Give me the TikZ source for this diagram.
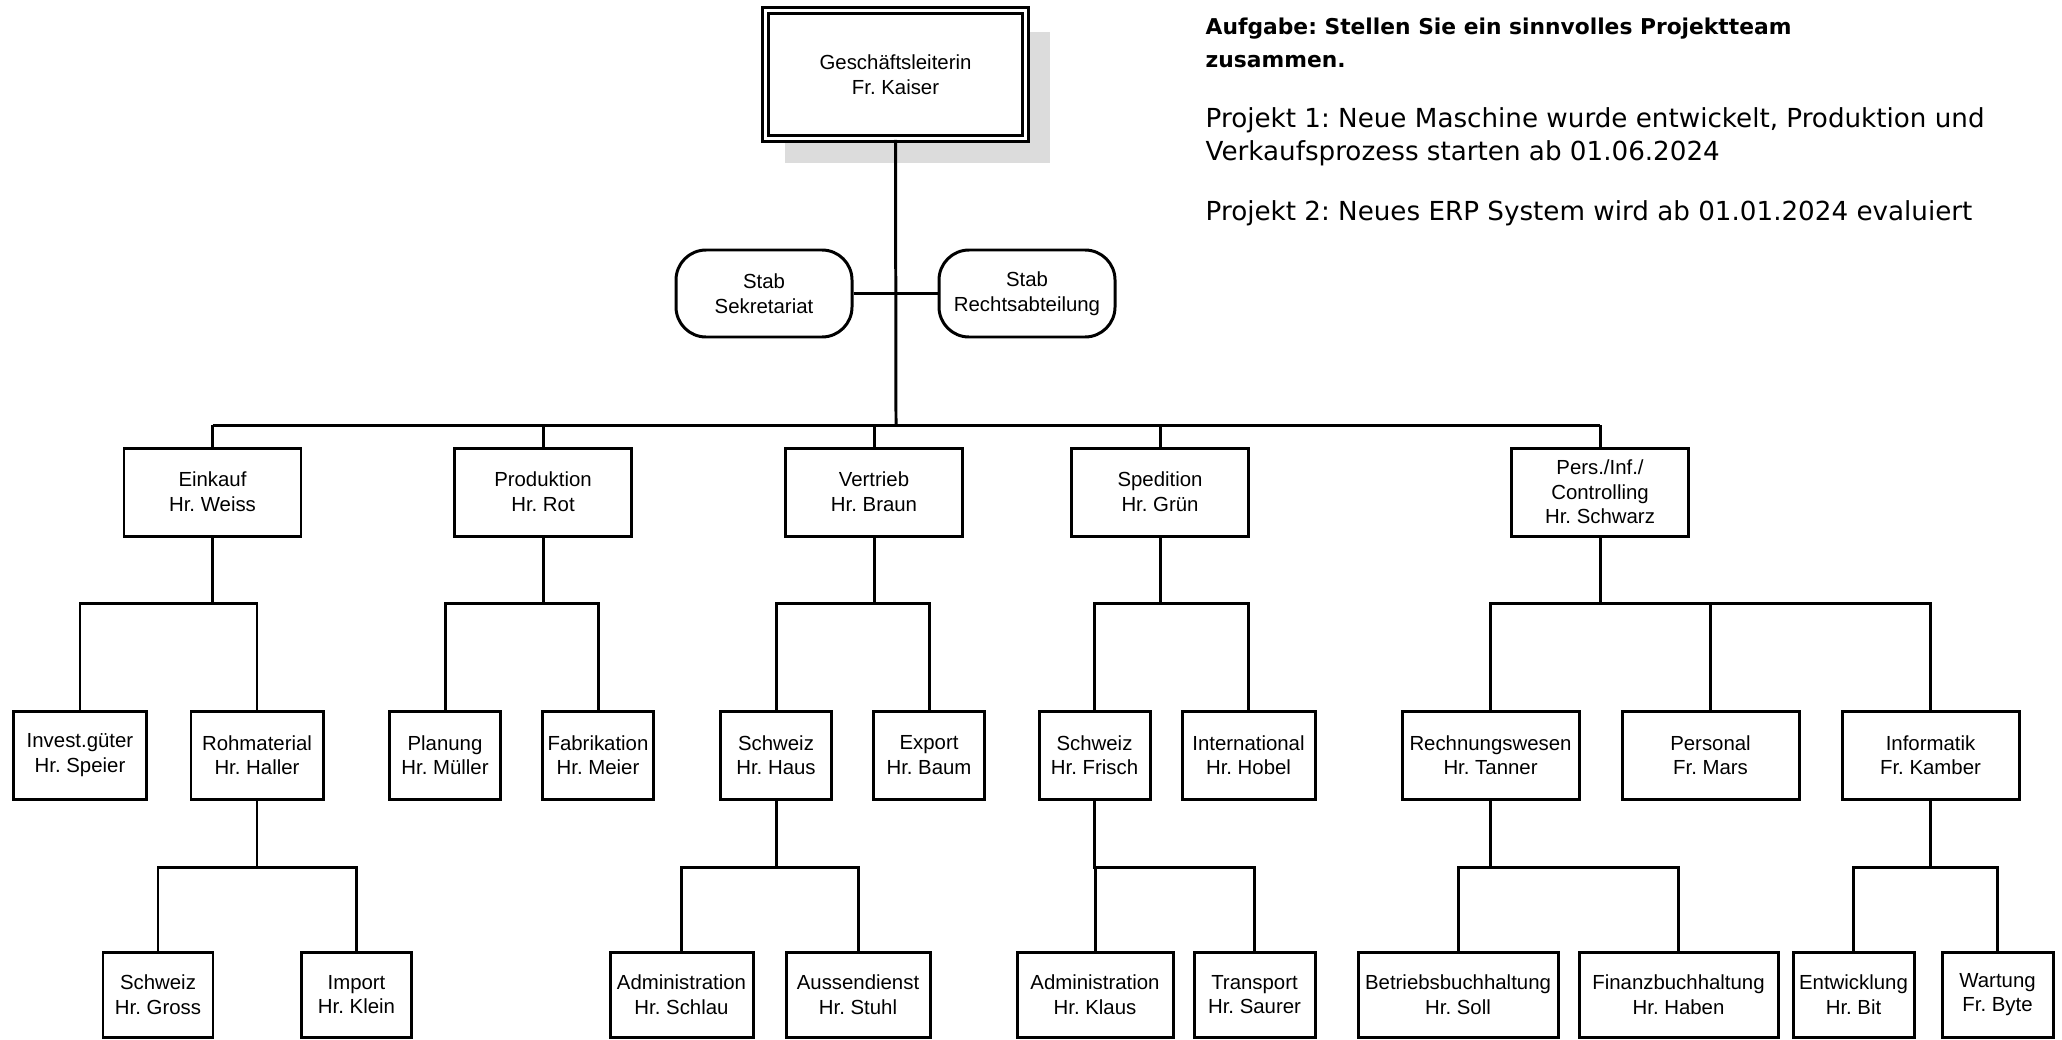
\documentclass[tikz,border=0pt]{standalone}
\usepackage{fontspec}
\setmainfont{Liberation Sans}
\newfontfamily\taskfont{DejaVu Sans}
\usetikzlibrary{positioning}
\definecolor{shadowgray}{RGB}{220,220,220}
\frenchspacing

\begin{document}
\begin{tikzpicture}[
      font=\fontsize{5.8pt}{7pt}\selectfont,
      box/.style={draw, line width=0.85pt, align=center, fill=white,
        minimum height=0.88cm, inner sep=1pt},
      headbox/.style={draw, double, line width=0.8pt, double distance=0.9pt,
        align=center, fill=white, minimum width=2.6cm, minimum height=1.28cm},
      stab/.style={draw, line width=0.85pt, rounded corners=0.3cm, align=center,
        fill=white, minimum width=1.76cm, minimum height=0.87cm},
      link/.style={line width=0.85pt},
      task/.style={anchor=north west, align=left, inner sep=0pt,
        font=\taskfont\fontsize{7.45pt}{9.3pt}\selectfont}
    ]
    \useasboundingbox (0,0) rectangle (20.62,-10.39);

    % top of the chart
    \fill[shadowgray] (7.85,-0.32) rectangle (10.50,-1.63);
    \node[headbox] (chef) at (8.955,-0.745) {Geschäftsleiterin\\Fr. Kaiser};
    \node[stab] (sekr) at (7.64,-2.935) {Stab\\Sekretariat};
    \node[stab] (recht) at (10.27,-2.935) {Stab\\Rechtsabteilung};
    \coordinate (bus) at (8.96,-4.25);

    % departments
    \node[box, minimum width=1.77cm] (einkauf) at (2.125,-4.92) {Einkauf\\Hr. Weiss};
    \node[box, minimum width=1.77cm] (prod) at (5.43,-4.92) {Produktion\\Hr. Rot};
    \node[box, minimum width=1.77cm] (vertrieb) at (8.74,-4.92) {Vertrieb\\Hr. Braun};
    \node[box, minimum width=1.77cm] (spedition) at (11.60,-4.92) {Spedition\\Hr. Grün};
    \node[box, minimum width=1.77cm] (pers) at (16.00,-4.92) {Pers./Inf./\\Controlling\\Hr. Schwarz};

    % second level
    \node[box, minimum width=1.33cm] (invest) at (0.80,-7.55) {Invest.güter\\Hr. Speier};
    \node[box, minimum width=1.32cm] (rohmat) at (2.57,-7.55) {Rohmaterial\\Hr. Haller};
    \node[box, minimum width=1.11cm] (planung) at (4.45,-7.55) {Planung\\Hr. Müller};
    \node[box, minimum width=1.11cm] (fabrik) at (5.98,-7.55) {Fabrikation\\Hr. Meier};
    \node[box, minimum width=1.11cm] (chhaus) at (7.76,-7.55) {Schweiz\\Hr. Haus};
    \node[box, minimum width=1.11cm] (export) at (9.29,-7.55) {Export\\Hr. Baum};
    \node[box, minimum width=1.11cm] (chfrisch) at (10.945,-7.55) {Schweiz\\Hr. Frisch};
    \node[box, minimum width=1.33cm] (intl) at (12.485,-7.55) {International\\Hr. Hobel};
    \node[box, minimum width=1.77cm] (rewe) at (14.905,-7.55) {Rechnungswesen\\Hr. Tanner};
    \node[box, minimum width=1.77cm] (personal) at (17.105,-7.55) {Personal\\Fr. Mars};
    \node[box, minimum width=1.77cm] (info) at (19.305,-7.55) {Informatik\\Fr. Kamber};

    % third level
    \node[box, minimum width=1.10cm, minimum height=0.85cm] (chgross) at (1.58,-9.945) {Schweiz\\Hr. Gross};
    \node[box, minimum width=1.10cm, minimum height=0.85cm] (import) at (3.565,-9.945) {Import\\Hr. Klein};
    \node[box, minimum width=1.43cm, minimum height=0.85cm] (adminS) at (6.815,-9.945) {Administration\\Hr. Schlau};
    \node[box, minimum width=1.44cm, minimum height=0.85cm] (aussen) at (8.58,-9.945) {Aussendienst\\Hr. Stuhl};
    \node[box, minimum width=1.56cm, minimum height=0.85cm] (adminK) at (10.95,-9.945) {Administration\\Hr. Klaus};
    \node[box, minimum width=1.21cm, minimum height=0.85cm] (transport) at (12.545,-9.945) {Transport\\Hr. Saurer};
    \node[box, minimum width=2.00cm, minimum height=0.85cm] (bebu) at (14.58,-9.945) {Betriebsbuchhaltung\\Hr. Soll};
    \node[box, minimum width=1.99cm, minimum height=0.85cm] (fibu) at (16.785,-9.945) {Finanzbuchhaltung\\Hr. Haben};
    \node[box, minimum width=1.21cm, minimum height=0.85cm] (entw) at (18.535,-9.945) {Entwicklung\\Hr. Bit};
    \node[box, minimum width=1.11cm, minimum height=0.85cm] (wartung) at (19.975,-9.945) {Wartung\\Fr. Byte};

    % task text
    \node[task, font=\taskfont\bfseries\fontsize{6.2pt}{9.6pt}\selectfont] (aufgabe) at (12.05,-0.17)
      {Aufgabe: Stellen Sie ein sinnvolles Projektteam\\zusammen.};
    \node[task] (proj1) at (12.05,-1.07) {Projekt 1: Neue Maschine wurde entwickelt, Produktion und\\Verkaufsprozess starten ab 01.06.2024};
    \node[task] (proj2) at (12.05,-2.00) {Projekt 2: Neues ERP System wird ab 01.01.2024 evaluiert};

    % connectors
    \draw[link] (chef.south) -- (bus);
    \draw[link] (sekr.east) -- (recht.west);
    \draw[link] (bus -| einkauf.north) -- (bus -| pers.north);
    \foreach \d in {einkauf,prod,vertrieb,spedition,pers}
      \draw[link] (bus -| \d.north) -- (\d.north);

    \draw[link] (einkauf.south) -- ++(0,-0.66) -| (invest.north);
    \draw[link] (einkauf.south) -- ++(0,-0.66) -| (rohmat.north);
    \draw[link] (prod.south) -- ++(0,-0.66) -| (planung.north);
    \draw[link] (prod.south) -- ++(0,-0.66) -| (fabrik.north);
    \draw[link] (vertrieb.south) -- ++(0,-0.66) -| (chhaus.north);
    \draw[link] (vertrieb.south) -- ++(0,-0.66) -| (export.north);
    \draw[link] (spedition.south) -- ++(0,-0.66) -| (chfrisch.north);
    \draw[link] (spedition.south) -- ++(0,-0.66) -| (intl.north);
    \draw[link] (pers.south) -- ++(0,-0.66) -| (rewe.north);
    \draw[link] (pers.south) -- ++(0,-0.66) -| (personal.north);
    \draw[link] (pers.south) -- ++(0,-0.66) -| (info.north);

    \draw[link] (rohmat.south) -- ++(0,-0.67) -| (chgross.north);
    \draw[link] (rohmat.south) -- ++(0,-0.67) -| (import.north);
    \draw[link] (chhaus.south) -- ++(0,-0.67) -| (adminS.north);
    \draw[link] (chhaus.south) -- ++(0,-0.67) -| (aussen.north);
    \draw[link] (chfrisch.south) -- ++(0,-0.67) -| (adminK.north);
    \draw[link] (chfrisch.south) -- ++(0,-0.67) -| (transport.north);
    \draw[link] (rewe.south) -- ++(0,-0.67) -| (bebu.north);
    \draw[link] (rewe.south) -- ++(0,-0.67) -| (fibu.north);
    \draw[link] (info.south) -- ++(0,-0.67) -| (entw.north);
    \draw[link] (info.south) -- ++(0,-0.67) -| (wartung.north);
  \end{tikzpicture}
\end{document}
